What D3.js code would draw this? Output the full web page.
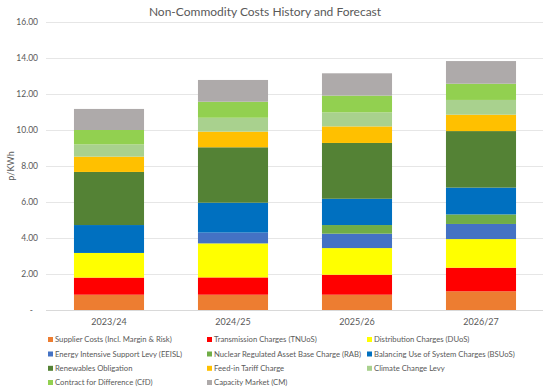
<!DOCTYPE html>
<html><head><meta charset="utf-8">
<script src="https://cdn.jsdelivr.net/npm/d3@7"></script>
<style>body{margin:0;background:#fff}svg{display:block}text{font-family:Lato,"Open Sans",sans-serif;fill:#595959}</style>
</head><body><svg id="c" width="547" height="391"></svg>
<script>
const categories = ["2023/24","2024/25","2025/26","2026/27"];
const seriesNames = ["Supplier Costs (Incl. Margin & Risk)","Transmission Charges (TNUoS)","Distribution Charges (DUoS)","Energy Intensive Support Levy (EEISL)","Nuclear Regulated Asset Base Charge (RAB)","Balancing Use of System Charges (BSUoS)","Renewables Obligation","Feed-in Tariff Charge","Climate Change Levy","Contract for Difference (CfD)","Capacity Market (CM)"];
const supplier = [0.85,0.85,0.85,1.04];
const tnuos    = [0.95,0.96,1.11,1.31];
const duos     = [1.37,1.89,1.48,1.59];
const eeisl    = [0.00,0.60,0.80,0.84];
const rab      = [0.00,0.00,0.48,0.53];
const bsuos    = [1.55,1.66,1.46,1.49];
const ro       = [2.95,3.08,3.10,3.14];
const fit      = [0.85,0.87,0.92,0.91];
const ccl      = [0.68,0.77,0.78,0.82];
const cfd      = [0.80,0.89,0.93,0.90];
const cm       = [1.17,1.21,1.24,1.26];
const yTicks = [0,2,4,6,8,10,12,14,16];
const colors = ["#ED7D31","#FF0000","#FFFF00","#4472C4","#70AD47","#0070C0","#548235","#FFC000","#A9D18E","#92D050","#AEAAAA"];

const allSeries = [supplier,tnuos,duos,eeisl,rab,bsuos,ro,fit,ccl,cfd,cm];
const rows = categories.map((c,i)=>{const o={cat:c}; seriesNames.forEach((s,j)=>o[s]=allSeries[j][i]); return o;});
const stack = d3.stack().keys(seriesNames)(rows);

const svg = d3.select("#c");
const x = d3.scaleBand().domain(categories).range([47,543]).paddingInner(0.435).paddingOuter(0.2175);
const y = d3.scaleLinear().domain([0,16]).range([310,22]);

// gridlines
svg.append("g").selectAll("line").data(yTicks).join("line")
  .attr("x1",46).attr("x2",543).attr("y1",d=>y(d)).attr("y2",d=>y(d))
  .attr("stroke",d=>d===0?"#D9D9D9":"#E6E6E6").attr("stroke-width",1).attr("shape-rendering","crispEdges");

// y labels
svg.append("g").selectAll("text").data(yTicks).join("text")
  .attr("x",d=>d===0?33:38).attr("y",d=>y(d)).attr("dy","0.35em")
  .attr("text-anchor","end").attr("font-size",8.5)
  .text(d=>d===0?"-":d.toFixed(2));

// bars
svg.append("g").selectAll("g").data(stack).join("g").attr("fill",(d,i)=>colors[i])
  .selectAll("rect").data(d=>d).join("rect")
  .attr("x",d=>x(d.data.cat)).attr("width",x.bandwidth())
  .attr("y",d=>y(d[1])).attr("height",d=>Math.max(0,y(d[0])-y(d[1])));

// x labels
svg.append("g").selectAll("text").data(categories).join("text")
  .attr("x",d=>x(d)+x.bandwidth()/2).attr("y",322).attr("dy","0.35em")
  .attr("text-anchor","middle").attr("font-size",9).text(d=>d);

// title
svg.append("text").attr("x",265).attr("y",12).attr("dy","0.35em").attr("text-anchor","middle")
  .attr("font-size",12).text("Non-Commodity Costs History and Forecast");

// y axis title
svg.append("text").attr("transform","translate(11,166) rotate(-90)").attr("text-anchor","middle")
  .attr("dy","0.35em").attr("font-size",9).text("p/KWh");

// legend
const colX = [48,207,367];
const rowY = [339.5,354,368.3,382.5];
const lg = svg.append("g").selectAll("g").data(seriesNames).join("g")
  .attr("transform",(d,i)=>`translate(${colX[i%3]},${rowY[Math.floor(i/3)]})`);
lg.append("rect").attr("x",0).attr("y",-2.5).attr("width",5).attr("height",5).attr("fill",(d,i)=>colors[i]);
lg.append("text").attr("x",7).attr("y",0).attr("dy","0.35em").attr("font-size",7.7).text(d=>d);
</script></body></html>
